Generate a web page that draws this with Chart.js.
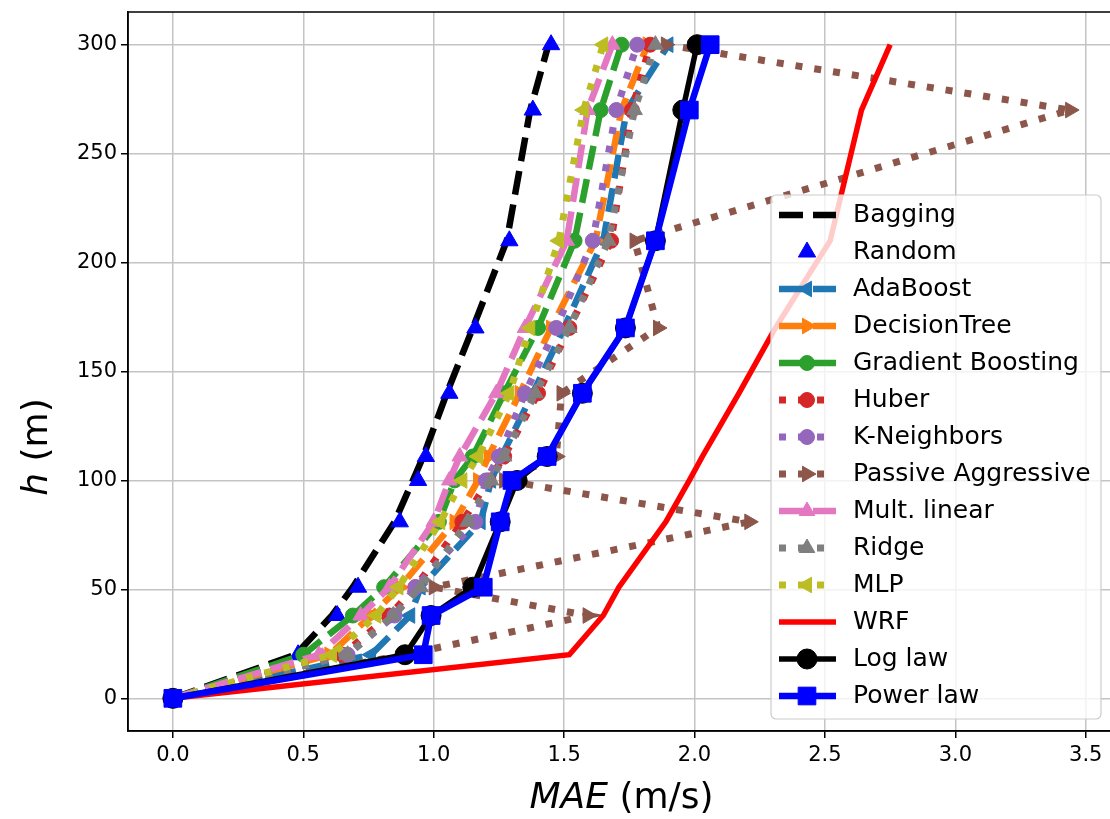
<!DOCTYPE html>
<html>
<head>
<meta charset="utf-8">
<script src="https://cdn.jsdelivr.net/npm/chart.js@4.4.1/dist/chart.umd.min.js"></script>
<style>
html, body { margin: 0; padding: 0; background: #fff; overflow: hidden; }
#wrap { width: 1120px; height: 819px; }
</style>
</head>
<body>
<div id="wrap"><canvas id="maeChart" width="1120" height="819"></canvas></div>
<script>
// measurement heights (m)
const heights = [0, 20, 38, 51, 81, 100, 111, 140, 170, 210, 270, 300];

// MAE (m/s) per height
const bagging = [0, 0.47, 0.61, 0.69, 0.85, 0.92, 0.96, 1.05, 1.15, 1.28, 1.37, 1.44];
const randomForest = [0, 0.48, 0.63, 0.71, 0.87, 0.94, 0.97, 1.06, 1.16, 1.29, 1.38, 1.45];
const adaBoost = [0, 0.76, 0.91, 0.95, 1.18, 1.22, 1.26, 1.38, 1.5, 1.65, 1.74, 1.9];
const decisionTree = [0, 0.6, 0.76, 0.87, 1.08, 1.17, 1.21, 1.33, 1.45, 1.62, 1.72, 1.82];
const gradientBoosting = [0, 0.5, 0.69, 0.81, 1.02, 1.08, 1.15, 1.27, 1.4, 1.54, 1.64, 1.72];
const huber = [0, 0.65, 0.83, 0.93, 1.11, 1.21, 1.27, 1.4, 1.52, 1.68, 1.76, 1.83];
const kNeighbors = [0, 0.67, 0.85, 0.93, 1.16, 1.2, 1.25, 1.35, 1.47, 1.61, 1.7, 1.78];
const passiveAggressive = [0, 0.89, 1.59, 1.0, 2.21, 1.27, 1.47, 1.49, 1.86, 1.77, 3.44, 1.89];
const multLinear = [0, 0.56, 0.72, 0.83, 1.0, 1.06, 1.1, 1.24, 1.35, 1.51, 1.59, 1.685];
const ridge = [0, 0.67, 0.845, 0.95, 1.13, 1.22, 1.27, 1.39, 1.52, 1.67, 1.77, 1.85];
const mlp = [0, 0.61, 0.78, 0.865, 1.025, 1.11, 1.17, 1.29, 1.37, 1.48, 1.575, 1.65];
const wrf = [0, 1.52, 1.65, 1.71, 1.89, 1.98, 2.03, 2.17, 2.31, 2.52, 2.64, 2.75];
const logLaw = [0, 0.89, 0.99, 1.15, 1.255, 1.32, 1.435, 1.57, 1.735, 1.85, 1.955, 2.01];
const powerLaw = [0, 0.96, 0.99, 1.19, 1.255, 1.3, 1.435, 1.57, 1.735, 1.85, 1.98, 2.06];

const xTicks = [0, 0.5, 1, 1.5, 2, 2.5, 3, 3.5];
const xTickLabels = ["0.0", "0.5", "1.0", "1.5", "2.0", "2.5", "3.0", "3.5"];
const yTicks = [0, 50, 100, 150, 200, 250, 300];
const yTickLabels = ["0", "50", "100", "150", "200", "250", "300"];

const DASHED = [24, 10];
const DOTTED = [7, 12];
const FONT = "'DejaVu Sans', 'Liberation Sans', sans-serif";

Chart.defaults.font.family = FONT;
Chart.defaults.color = "#000";

function series(label, values, color, opts) {
    const o = Object.assign({ dash: [], width: 6.5, marker: false, radius: 0, rotation: 0, line: true }, opts);
    return {
        label,
        data: values.map((v, i) => ({ x: v, y: heights[i] })),
        borderColor: color,
        backgroundColor: color,
        borderWidth: o.width,
        borderDash: o.dash,
        showLine: o.line,
        pointStyle: o.marker || "circle",
        pointRadius: o.radius,
        pointRotation: o.rotation,
        pointBackgroundColor: color,
        pointBorderColor: color,
        pointBorderWidth: 1,
        tension: 0,
        fill: false,
    };
}

const datasets = [
    series("Bagging", bagging, "#000000", { dash: DASHED }),
    series("Random", randomForest, "#0000ff", { line: false, marker: "triangle", radius: 10 }),
    series("AdaBoost", adaBoost, "#1f77b4", { dash: DASHED, marker: "triangle", radius: 9, rotation: -90 }),
    series("DecisionTree", decisionTree, "#ff7f0e", { dash: DASHED, marker: "triangle", radius: 9, rotation: 90 }),
    series("Gradient Boosting", gradientBoosting, "#2ca02c", { dash: DASHED, marker: "circle", radius: 7.5 }),
    series("Huber", huber, "#d62728", { dash: DOTTED, width: 7, marker: "circle", radius: 7.5 }),
    series("K-Neighbors", kNeighbors, "#9467bd", { dash: DOTTED, width: 7, marker: "circle", radius: 7.5 }),
    series("Passive Aggressive", passiveAggressive, "#8c564b", { dash: DOTTED, width: 7, marker: "triangle", radius: 9, rotation: 90 }),
    series("Mult. linear", multLinear, "#e377c2", { dash: DASHED, marker: "triangle", radius: 9 }),
    series("Ridge", ridge, "#7f7f7f", { dash: DOTTED, width: 7, marker: "triangle", radius: 9 }),
    series("MLP", mlp, "#bcbd22", { dash: DOTTED, width: 7, marker: "triangle", radius: 9, rotation: -90 }),
    series("WRF", wrf, "#ff0000", { width: 5.5 }),
    series("Log law", logLaw, "#000000", { width: 5.5, marker: "circle", radius: 10 }),
    series("Power law", powerLaw, "#0000ff", { width: 6.5, marker: "rect", radius: 12.5 }),
];
// later series on top, like matplotlib
datasets.forEach((ds, i) => { ds.order = datasets.length - i; });

function drawTitle(ctx, parts, x, y) {
    let total = 0;
    parts.forEach((p) => { ctx.font = p.font; p.w = ctx.measureText(p.text).width; total += p.w; });
    let cx = x - total / 2;
    parts.forEach((p) => { ctx.font = p.font; ctx.fillText(p.text, cx, y); cx += p.w; });
}

function noPadding(scale) {
    scale.paddingTop = 0;
    scale.paddingBottom = 0;
    scale.paddingLeft = 0;
    scale.paddingRight = 0;
}

const figurePlugin = {
    id: "figure",
    afterDraw(chart) {
        const { ctx, chartArea: area } = chart;
        ctx.save();

        // box spines
        ctx.strokeStyle = "#000";
        ctx.lineWidth = 1.5;
        ctx.setLineDash([]);
        ctx.strokeRect(area.left, area.top, area.right - area.left, area.bottom - area.top);

        // legend
        const lx = 771, ly = 195, lw = 330, lh = 524;
        ctx.beginPath();
        ctx.roundRect(lx, ly, lw, lh, 5);
        ctx.fillStyle = "rgba(255,255,255,0.8)";
        ctx.fill();
        ctx.strokeStyle = "#cccccc";
        ctx.lineWidth = 1.2;
        ctx.stroke();

        chart.data.datasets.forEach((ds, i) => {
            const y = 215 + i * 37;
            if (ds.showLine !== false) {
                ctx.setLineDash(ds.borderDash);
                ctx.lineWidth = ds.borderWidth;
                ctx.strokeStyle = ds.borderColor;
                ctx.beginPath();
                ctx.moveTo(779, y);
                ctx.lineTo(836, y);
                ctx.stroke();
                ctx.setLineDash([]);
            }
            if (ds.pointRadius > 0) {
                ctx.fillStyle = ds.pointBackgroundColor;
                ctx.strokeStyle = ds.pointBorderColor;
                ctx.lineWidth = 1;
                Chart.helpers.drawPoint(ctx, {
                    pointStyle: ds.pointStyle,
                    rotation: ds.pointRotation,
                    radius: ds.pointRadius,
                    borderWidth: 1,
                }, 807, y);
            }
            ctx.fillStyle = "#000";
            ctx.font = "25px " + FONT;
            ctx.textBaseline = "middle";
            ctx.textAlign = "left";
            ctx.fillText(ds.label, 853, y);
        });

        // axis titles with italic symbols
        ctx.fillStyle = "#000";
        ctx.textBaseline = "middle";
        ctx.textAlign = "left";
        drawTitle(ctx, [
            { text: "MAE", font: "italic 36px " + FONT },
            { text: " (m/s)", font: "36px " + FONT },
        ], (area.left + area.right) / 2, 799);

        ctx.translate(38, 447);
        ctx.rotate(-Math.PI / 2);
        drawTitle(ctx, [
            { text: "h", font: "italic 36px " + FONT },
            { text: " (m)", font: "36px " + FONT },
        ], 0, 0);

        ctx.restore();
    },
};

const gridStyle = { color: "#c4c4c4", lineWidth: 1.5, tickColor: "#000", tickLength: 7, tickWidth: 1.5 };

new Chart(document.getElementById("maeChart"), {
    type: "line",
    data: { datasets },
    options: {
        responsive: false,
        animation: false,
        events: [],
        layout: { padding: { left: 0, right: 5, top: 12, bottom: 0 }, autoPadding: false },
        plugins: { legend: { display: false }, tooltip: { enabled: false } },
        scales: {
            x: {
                type: "linear",
                min: -0.172,
                max: 3.612,
                afterBuildTicks(scale) { scale.ticks = xTicks.map((v) => ({ value: v })); },
                afterFit(scale) { scale.height = 88; noPadding(scale); },
                ticks: {
                    callback: (v, i) => xTickLabels[i],
                    font: { size: 21 },
                    color: "#000",
                    padding: 5,
                    maxRotation: 0,
                    autoSkip: false,
                },
                grid: gridStyle,
                border: { color: "#000", width: 1.5 },
            },
            y: {
                type: "linear",
                min: -15,
                max: 315,
                afterBuildTicks(scale) { scale.ticks = yTicks.map((v) => ({ value: v })); },
                afterFit(scale) { scale.width = 128; noPadding(scale); },
                ticks: {
                    callback: (v, i) => yTickLabels[i],
                    font: { size: 21 },
                    color: "#000",
                    padding: 4,
                    autoSkip: false,
                },
                grid: gridStyle,
                border: { color: "#000", width: 1.5 },
            },
        },
    },
    plugins: [figurePlugin],
});
</script>
</body>
</html>
